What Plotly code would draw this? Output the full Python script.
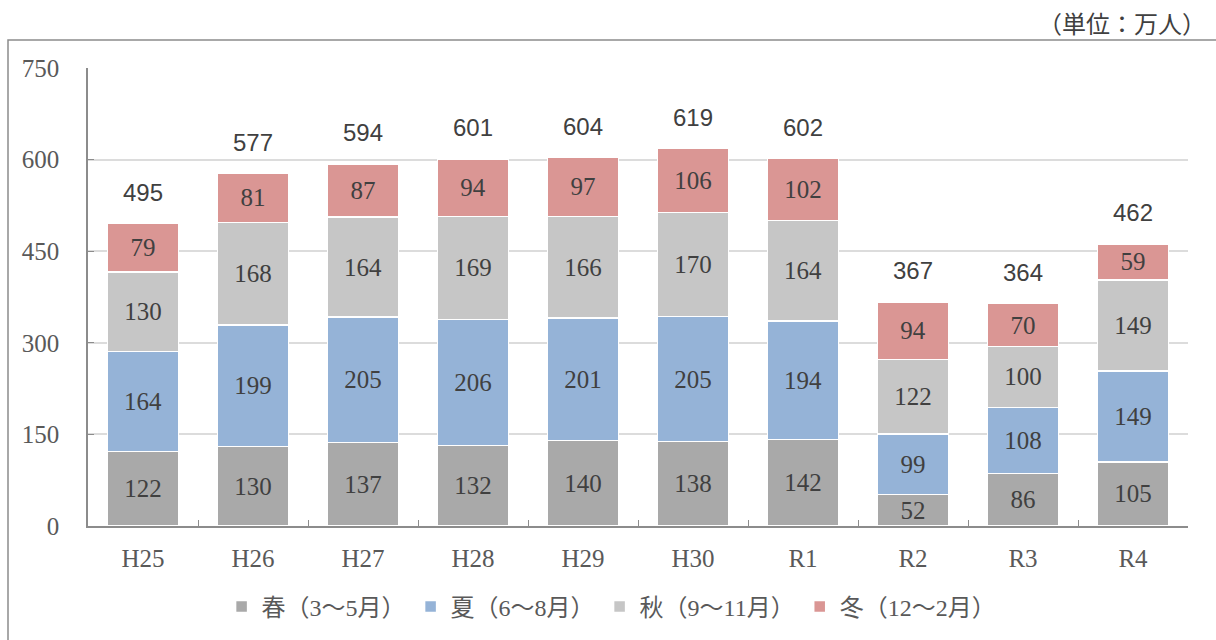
import plotly.graph_objects as go

# 年度別・季節別の人数（単位：万人）
years = ["H25", "H26", "H27", "H28", "H29", "H30", "R1", "R2", "R3", "R4"]
spring = [122, 130, 137, 132, 140, 138, 142, 52, 86, 105]
summer = [164, 199, 205, 206, 201, 205, 194, 99, 108, 149]
autumn = [130, 168, 164, 169, 166, 170, 164, 122, 100, 149]
winter = [79, 81, 87, 94, 97, 106, 102, 94, 70, 59]
totals = [495, 577, 594, 601, 604, 619, 602, 367, 364, 462]

series_names = ["春（3～5月）", "夏（6～8月）", "秋（9～11月）", "冬（12～2月）"]
series_values = [spring, summer, autumn, winter]
series_colors = ["#A9A9A9", "#95B3D7", "#C6C6C6", "#DA9694"]

serif = "Liberation Serif, Times New Roman, Noto Sans CJK JP, serif"
sans = "Liberation Sans, Arial, Noto Sans CJK JP, sans-serif"
text_color = "#404040"
axis_color = "#595959"

fig = go.Figure()

for name, vals, color in zip(series_names, series_values, series_colors):
    fig.add_trace(go.Bar(
        x=years,
        y=vals,
        name=name,
        marker=dict(color=color, line=dict(color="white", width=1.5)),
        text=[str(v) for v in vals],
        textposition="inside",
        insidetextanchor="middle",
        textangle=0,
        constraintext="none",
        textfont=dict(family=serif, size=25, color=text_color),
        hoverinfo="x+y+name",
    ))

L, R, T, B = 88, 28, 68, 113
W, H = 1216, 640
pw, ph = W - L - R, H - T - B

def px_x(x):
    return (x - L) / pw

def px_y(y):
    return (H - B - y) / ph

# 合計値のラベル（棒の上）
total_labels = [
    dict(
        x=yr, y=tot, xref="x", yref="y",
        text=str(tot),
        showarrow=False,
        yanchor="middle",
        yshift=31,
        font=dict(family=sans, size=24, color=text_color),
    )
    for yr, tot in zip(years, totals)
]

unit_label = dict(
    text="（単位：万人）",
    xref="paper", yref="paper",
    x=px_x(1208), y=px_y(22),
    xanchor="right", yanchor="middle",
    showarrow=False,
    font=dict(family="Noto Sans CJK JP, sans-serif", size=24, color=text_color),
)

fig.update_layout(
    width=W,
    height=H,
    margin=dict(l=L, r=R, t=T, b=B),
    paper_bgcolor="white",
    plot_bgcolor="white",
    barmode="stack",
    bargap=0.355,
    showlegend=True,
    legend=dict(
        orientation="h",
        x=0.476,
        xanchor="center",
        y=px_y(607),
        yanchor="middle",
        font=dict(family=serif, size=24, color=axis_color),
        itemwidth=30,
        tracegroupgap=0,
        traceorder="normal",
    ),
    xaxis=dict(
        type="category",
        showline=True,
        linecolor="#8C8C8C",
        linewidth=1.5,
        ticks="inside",
        tickson="boundaries",
        ticklen=6,
        tickcolor="#8C8C8C",
        tickfont=dict(family=serif, size=25, color=axis_color),
        ticklabelstandoff=9,
        showgrid=False,
    ),
    yaxis=dict(
        range=[0, 750],
        tickvals=[0, 150, 300, 450, 600, 750],
        showline=True,
        linecolor="#8C8C8C",
        linewidth=1.5,
        ticks="inside",
        ticklen=6,
        tickcolor="#8C8C8C",
        tickfont=dict(family=serif, size=25, color=axis_color),
        ticklabelstandoff=22,
        showgrid=True,
        gridcolor="#DCDCDC",
        gridwidth=1.5,
        zeroline=False,
    ),
    shapes=[
        dict(
            type="rect",
            xref="paper", yref="paper",
            x0=px_x(8), x1=px_x(1240),
            y0=px_y(660), y1=px_y(40),
            line=dict(color="#8C8C8C", width=1.5),
            fillcolor="rgba(0,0,0,0)",
            layer="below",
        )
    ],
    annotations=total_labels + [unit_label],
)

fig.write_html("out.html")
